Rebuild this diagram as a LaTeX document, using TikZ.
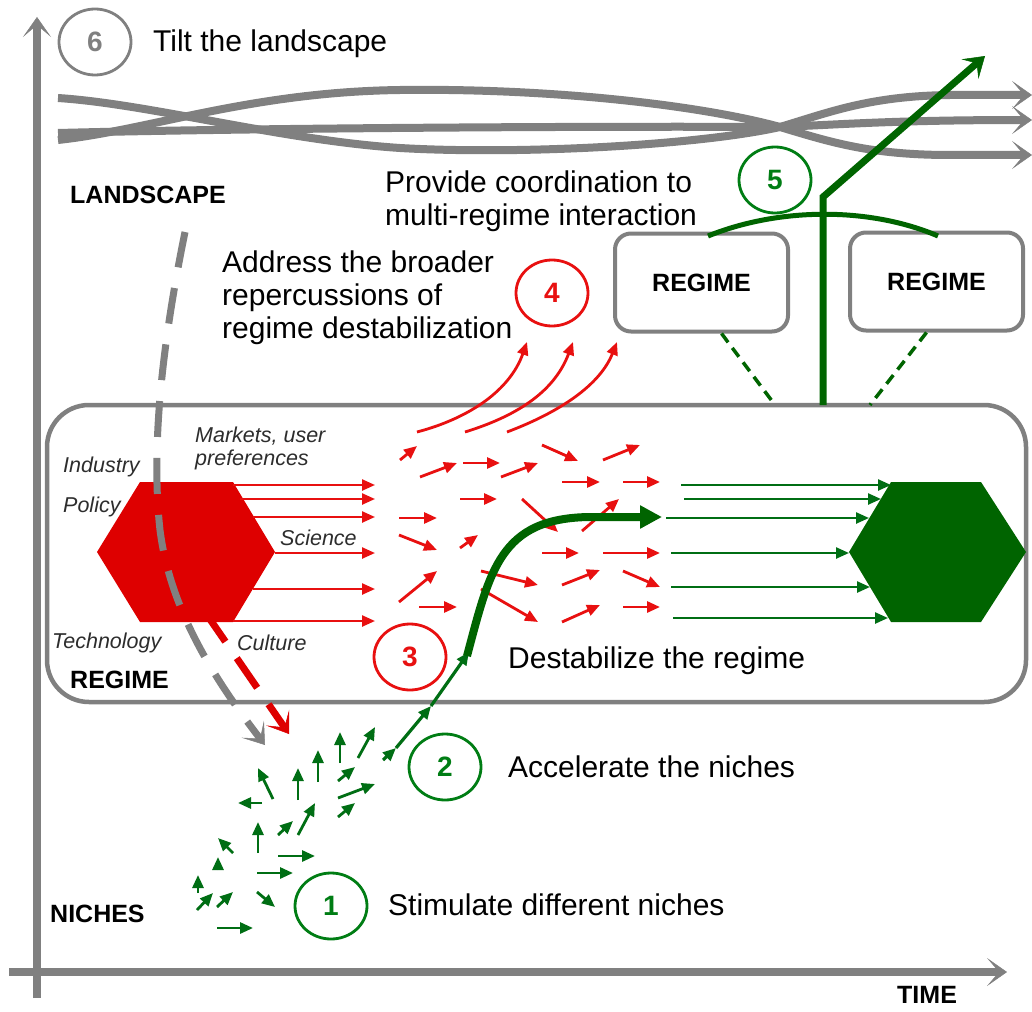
\documentclass[tikz,border=0pt]{standalone}
\usepackage{fontspec}
\setmainfont{Liberation Sans}
\usetikzlibrary{arrows.meta,shapes.geometric,calc}

\definecolor{axgrey}{RGB}{128,128,128}
\definecolor{hexred}{RGB}{222,0,0}
\definecolor{arrred}{RGB}{232,16,16}
\definecolor{hexgreen}{RGB}{0,100,0}
\definecolor{arrgreen}{RGB}{0,110,20}
\definecolor{circgreen}{RGB}{0,125,20}
\definecolor{labgrey}{RGB}{45,45,45}

\tikzset{
  chev/.tip={Stealth[length=20pt,width=28pt,inset=12pt,line width=0.5pt]},
  smalltip/.tip={Triangle[length=13pt,width=11pt]},
  axisline/.style={draw=axgrey,line width=8pt,-chev},
  band/.style={draw=axgrey,line width=8pt,-chev},
  redsmall/.style={draw=arrred,line width=2.8pt,-smalltip,arrred},
  greensmall/.style={draw=arrgreen,line width=2.8pt,-smalltip,arrgreen},
  maintext/.style={anchor=base west,font=\fontsize{30}{30}\selectfont,text=black,inner sep=0pt},
  boldlab/.style={anchor=base west,font=\fontsize{25}{25}\selectfont\bfseries,text=black,inner sep=0pt},
  itlab/.style={anchor=base west,font=\fontsize{21.5}{21.5}\selectfont\itshape,text=labgrey,inner sep=0pt},
  numcirc/.style={ellipse,draw=#1,text=#1,line width=2.8pt,minimum width=72pt,minimum height=66pt,inner sep=0pt,
    font=\fontsize{28}{28}\selectfont\bfseries},
  regbox/.style={draw=axgrey,line width=4pt,rounded corners=16pt,minimum width=173pt,minimum height=98pt,
    font=\fontsize{25}{25}\selectfont\bfseries,inner sep=0pt},
}

\begin{document}
\begin{tikzpicture}[x=1pt,y=-1pt]
\useasboundingbox (0,0) rectangle (1032,1011);
\fill[white] (0,0) rectangle (1032,1011);

% axes
\draw[axisline] (37,998) -- (37,17);
\draw[axisline] (9,972) -- (1007,972);
\node[boldlab] (time) at (897,1003) {TIME};

% braided landscape bands
\draw[band] (58,98) .. controls (150,104) and (280,140) .. (400,148)
  .. controls (520,155) and (700,145) .. (780,127)
  .. controls (830,112) and (870,96) .. (950,95) -- (1032,95);
\draw[band] (58,140) .. controls (150,130) and (250,92) .. (400,90)
  .. controls (550,88) and (700,105) .. (780,127)
  .. controls (830,142) and (870,155) .. (950,155) -- (1032,155);
\draw[band] (58,133) .. controls (250,128) and (600,126) .. (780,127)
  .. controls (850,124) and (900,120) .. (1032,120);

% regime frame
\node[draw=axgrey,line width=4.5pt,rounded corners=42pt,minimum width=979pt,minimum height=297pt] (regime) at (536.5,553.5) {};

% two neighbouring regimes
\node[regbox] (r1) at (701.5,282.5) {REGIME};
\node[regbox] (r2) at (936.5,281.5) {REGIME};
\draw[hexgreen,line width=3.5pt,dash pattern=on 11pt off 7pt] ($(r1.south)+(20,0)$) -- (775,405);
\draw[hexgreen,line width=3.5pt,dash pattern=on 11pt off 7pt] ($(r2.south)+(-10,0)$) -- (870,405);

% multi-regime coordination
\draw[hexgreen,line width=5pt] (708,236) .. controls (780,207) and (870,207) .. (938,236);
\draw[hexgreen,line width=7pt,
  -{Stealth[length=20pt,width=26pt,inset=9pt,line width=0.5pt]}] (823,405) -- (823,197) -- (985,56);

% hexagons
\fill[hexred] (140,482) -- (233,482) -- (275,552) -- (233,622) -- (140,622) -- (97,552) -- cycle;
\fill[hexgreen] (891,482) -- (981,482) -- (1026,552) -- (981,622) -- (891,622) -- (849,552) -- cycle;

% flows out of the old regime
\foreach \xs/\y in {233/485,240/499,253/517,275/553,253/589,233/621}
  \draw[redsmall,line width=2.4pt] (\xs,\y) -- (375,\y);

% scattered red field
\foreach \xa/\ya/\xb/\yb in {
  400/460/417/446, 420/477/457/463, 463/463/500/463, 501/477/538/463,
  542/445/578/461, 603/460/640/445, 562/482/600/482, 623/482/660/482,
  460/499/497/499, 522/499/558/532, 582/531/619/499, 399/518/437/518,
  399/535/437/550, 460/548/478/535, 542/553/579/553, 603/553/660/553,
  399/602/437/571, 481/571/538/585, 562/585/600/570, 623/571/660/587,
  419/607/457/607, 481/589/538/622, 562/622/600/605, 623/607/660/607}
  \draw[redsmall] (\xa,\ya) -- (\xb,\yb);

% broader repercussions
\draw[redsmall] (417,432) .. controls (470,418) and (510,390) .. (527,342);
\draw[redsmall] (465,432) .. controls (520,415) and (555,390) .. (573,342);
\draw[redsmall] (507,432) .. controls (560,412) and (600,385) .. (617,342);

% flows into the new regime
\foreach \xs/\y/\xe in {681/485/891,684/499/881,666/518/869,671/553/849,671/587/870,673/618/888}
  \draw[greensmall,line width=2.4pt] (\xs,\y) -- (\xe,\y);

% niche arrows
\foreach \xa/\ya/\xb/\yb in {
  217/928/253/928, 257/892/275/907, 197/910/213/893, 217/907/233/892,
  198/893/198/875, 218/870/218/857, 233/853/218/838, 257/873/293/873,
  278/856/315/856, 258/853/258/822, 278/835/293/821, 298/835/315/803,
  338/817/355/803, 338/798/375/784, 338/781/355/767, 262/803/238/803,
  273/799/258/768, 298/800/298/768, 318/782/318/750, 340/763/340/732,
  358/758/375/727}
  \draw[greensmall] (\xa,\ya) -- (\xb,\yb);

% accelerating niche trajectory
\draw[greensmall,line width=3.2pt] (383,760) -- (396,748);
\draw[greensmall,line width=3.2pt] (396,748) -- (431,706);
\draw[greensmall,line width=3.2pt] (431,706) -- (469,652);
\draw[hexgreen,line width=8pt,-{Triangle[length=22pt,width=22pt]}]
  (467,656) .. controls (490,570) and (500,518) .. (590,517) -- (662,517);

% landscape pressure
\draw[axgrey,line width=7pt,dash pattern=on 36pt off 21pt,-chev]
  (185,232) .. controls (165,330) and (150,440) .. (160,530)
  .. controls (170,610) and (215,680) .. (265,745);
\draw[hexred,line width=7pt,dash pattern=on 36pt off 20pt,-chev] (205,612) -- (289,734);

% numbered steps
\node[numcirc=axgrey] (c6) at (95,42) {6};
\node[numcirc=circgreen] (c5) at (775,180) {5};
\node[numcirc=arrred] (c4) at (552,293) {4};
\node[numcirc=arrred] (c3) at (410,657) {3};
\node[numcirc=circgreen] (c2) at (445,767) {2};
\node[numcirc=circgreen] (c1) at (331,906) {1};

% step texts
\node[maintext] (t6) at (153,52) {Tilt the landscape};
\node[maintext] (t5a) at (385,192) {Provide coordination to};
\node[maintext] (t5b) at (385,225) {multi-regime interaction};
\node[maintext] (t4a) at (222,272) {Address the broader};
\node[maintext] (t4b) at (222,305) {repercussions of};
\node[maintext] (t4c) at (222,338) {regime destabilization};
\node[maintext] (t3) at (508,668) {Destabilize the regime};
\node[maintext] (t2) at (508,777) {Accelerate the niches};
\node[maintext] (t1) at (388,915) {Stimulate different niches};

% level labels
\node[boldlab] (land) at (70,203) {LANDSCAPE};
\node[boldlab] (reg) at (70,688) {REGIME};
\node[boldlab] (nich) at (50,922) {NICHES};

% regime dimensions
\node[itlab] (ind) at (63,472) {Industry};
\node[itlab] (pol) at (63,512) {Policy};
\node[itlab] (mk1) at (195,442) {Markets, user};
\node[itlab] (mk2) at (195,465) {preferences};
\node[itlab] (sci) at (280,545) {Science};
\node[itlab] (tech) at (52,648) {Technology};
\node[itlab] (cul) at (237,650) {Culture};
\end{tikzpicture}
\end{document}
